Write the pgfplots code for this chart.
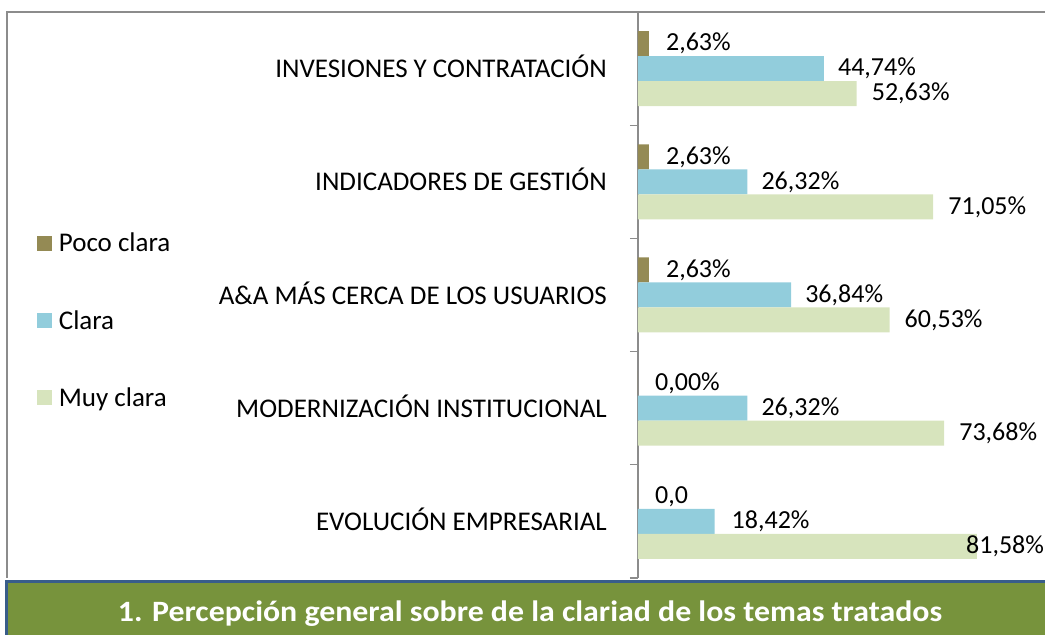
\documentclass[border=0pt]{standalone}
\usepackage{fontspec}
\setmainfont{Carlito}
\newfontfamily\titlefont{Carlito}[FakeStretch=1.08]
\usepackage{pgfplots}
\pgfplotsset{compat=1.18}
\usepackage{pgfplotstable}

\definecolor{poco}{HTML}{948A54}
\definecolor{clara}{HTML}{92CDDC}
\definecolor{muy}{HTML}{D7E4BD}
\definecolor{framec}{HTML}{8C8C8C}
\definecolor{banner}{HTML}{77933C}
\definecolor{bannerline}{HTML}{385D8A}
\newcommand\lbl{\fontsize{26}{30}\selectfont}
\newcommand\cat{\fontsize{27}{31}\selectfont}

\pgfplotstableread{
pos val lab dx
4 2.63 {2,63\%} 17
3 2.63 {2,63\%} 17
2 2.63 {2,63\%} 17
1 0 {0,00\%} 17
0 0 {0,0} 17
}\tabPoco
\pgfplotstableread{
pos val lab dx
4 44.74 {44,74\%} 14
3 26.32 {26,32\%} 14
2 36.84 {36,84\%} 14
1 26.32 {26,32\%} 14
0 18.42 {18,42\%} 17
}\tabClara
\pgfplotstableread{
pos val lab dx
4 52.63 {52,63\%} 15
3 71.05 {71,05\%} 15
2 60.53 {60,53\%} 15
1 73.68 {73,68\%} 15
0 81.58 {81,58\%} -11
}\tabMuy

\begin{document}
\begin{tikzpicture}[x=1pt,y=1pt]
\useasboundingbox (0,0) rectangle (1045,635);
\draw[framec, line width=2pt] (6.5,57) -- (6.5,623) -- (1060,623);
\begin{axis}[
  at={(638pt,57pt)}, anchor=south west,
  scale only axis, width=407pt, height=566pt,
  xbar, bar width=25pt,
  xmin=0, xmax=97.95, ymin=-0.5, ymax=4.5,
  hide x axis,
  axis y line*=left,
  y axis line style={framec, line width=1.2pt},
  tick style={framec, line width=1.2pt},
  ytick={0,...,4},
  yticklabels={EVOLUCIÓN EMPRESARIAL, MODERNIZACIÓN INSTITUCIONAL, A\&A MÁS CERCA DE LOS USUARIOS, INDICADORES DE GESTIÓN, INVESIONES Y CONTRATACIÓN},
  major tick length=0pt,
  extra y ticks={-0.5,0.5,1.5,2.5,3.5,4.5},
  extra y tick labels={},
  extra y tick style={major tick length=8pt, tick align=outside},
  yticklabel style={font=\cat, inner sep=0pt, xshift=-31pt, yshift=2pt, anchor=east, text=black},
  clip=false,
  nodes near coords,
  point meta=explicit symbolic,
  visualization depends on={\thisrow{dx}\as\dx},
  every node near coord/.append style={font=\lbl, anchor=west, inner sep=0pt, xshift=\dx pt, text=black},
  legend style={draw=none, fill=none, inner sep=0pt, outer sep=0pt,
    at={(-1.477,0.6095)}, anchor=north west, row sep=57pt, font=\cat,
    nodes={inner sep=0pt, text=black},
    /tikz/every odd column/.append style={column sep=7pt}},
  legend cell align=left,
  legend image code/.code={\draw[#1,draw=none] (0pt,-7.5pt) rectangle (15pt,7.5pt);},
]
\addplot[fill=poco, draw=none, bar shift=25pt] table[x=val, y=pos, meta=lab] {\tabPoco};
\addlegendentry{Poco clara}
\addplot[fill=clara, draw=none, bar shift=0pt] table[x=val, y=pos, meta=lab] {\tabClara};
\addlegendentry{Clara}
\addplot[fill=muy, draw=none, bar shift=-25pt] table[x=val, y=pos, meta=lab] {\tabMuy};
\addlegendentry{Muy clara}
\end{axis}
\draw[bannerline, line width=3.5pt, fill=banner] (6.5,53.5) rectangle (1060,-10);
\node[anchor=base, text=white, font=\fontsize{29.5}{34}\titlefont\bfseries, inner sep=0pt] at (530,13.5) {1. Percepción general sobre de la clariad de los temas tratados};
\end{tikzpicture}
\end{document}
